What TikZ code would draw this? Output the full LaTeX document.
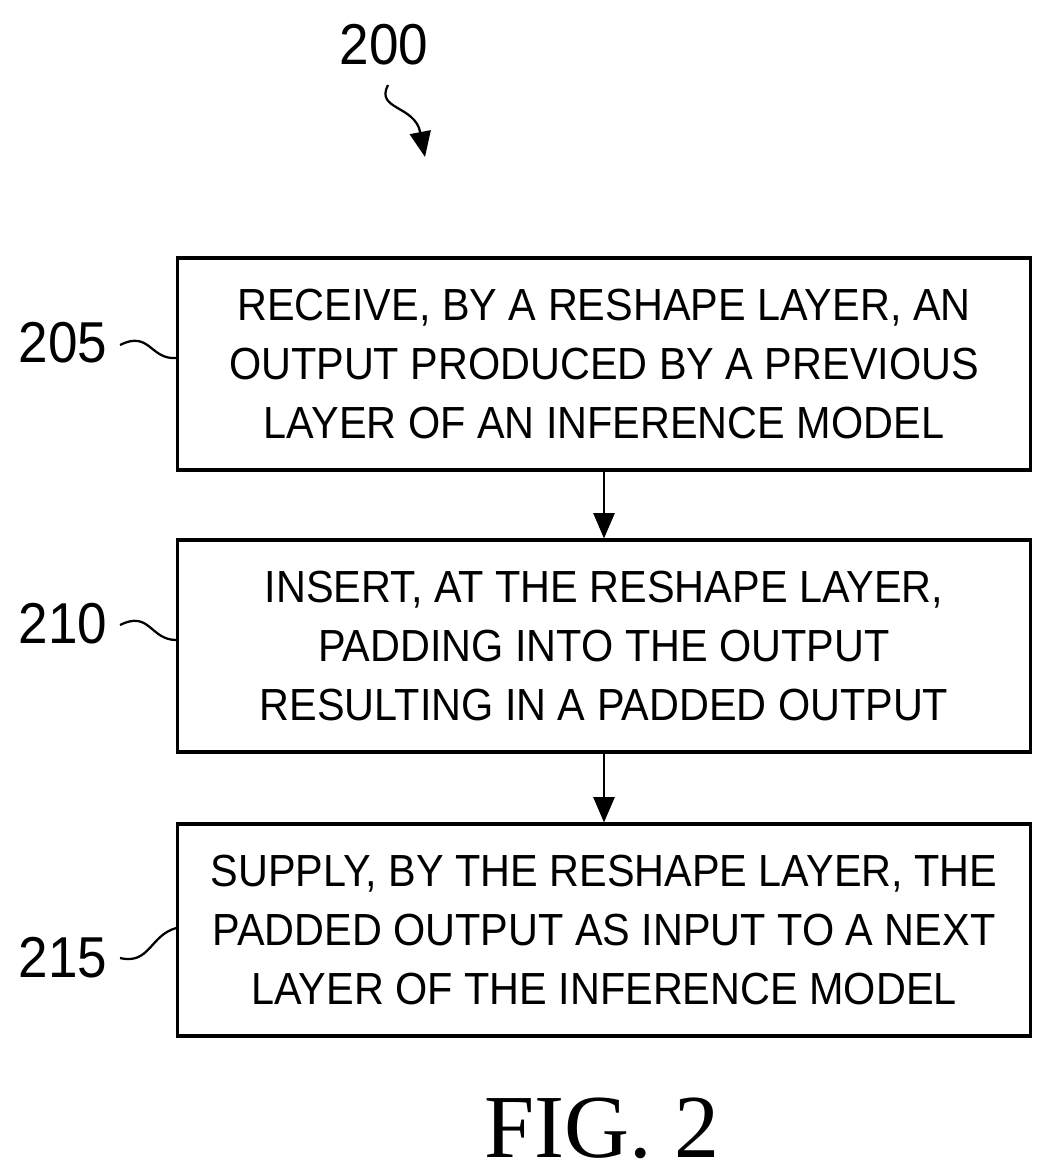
\documentclass[tikz,border=0pt]{standalone}
\usepackage{fontspec}
\setmainfont{Liberation Sans}[FakeStretch=0.92]
\newfontfamily\figfont{Liberation Serif}
\usetikzlibrary{arrows.meta,positioning,calc}

\begin{document}
\begin{tikzpicture}[
    x=0.025cm, y=-0.025cm,
    stepbox/.style={rectangle, draw=black, line width=2.2pt, minimum height=5.3cm, minimum width=21.3cm, align=center, font=\fontsize{32}{42}\selectfont, inner sep=0pt},
    tag/.style={font=\fontsize{41}{41}\selectfont, inner sep=0pt},
    arrow/.style={-{Triangle[length=18pt,width=15pt]}, line width=1.6pt},
    lead/.style={line width=1.6pt}
]
\useasboundingbox (0,0) rectangle (1052,1176);

% Steps
\node[stepbox] (s205) at (604,364) {RECEIVE, BY A RESHAPE LAYER, AN\\OUTPUT PRODUCED BY A PREVIOUS\\LAYER OF AN INFERENCE MODEL};
\node[stepbox] (s210) at (604,646) {INSERT, AT THE RESHAPE LAYER,\\PADDING INTO THE OUTPUT\\RESULTING IN A PADDED OUTPUT};
\node[stepbox] (s215) at (604,930) {SUPPLY, BY THE RESHAPE LAYER, THE\\PADDED OUTPUT AS INPUT TO A NEXT\\LAYER OF THE INFERENCE MODEL};

% Arrows
\draw[arrow] (s205) -- (s210);
\draw[arrow] (s210) -- (s215);

% Reference numerals
\node[tag] (n200) at (384,45) {200};
\node[tag] (n205) at (63,343) {205};
\node[tag] (n210) at (63,624) {210};
\node[tag] (n215) at (63,958) {215};

\coordinate (e205) at (120,345);
\coordinate (e210) at (120,625);
\coordinate (e215) at (120,958);
\draw[lead] (e205) .. controls (150,330) and (150,360) .. (s205.west |- 0,358);
\draw[lead] (e210) .. controls (150,610) and (150,640) .. (s210.west |- 0,640);
\draw[lead] (e215) .. controls (150,965) and (150,935) .. (s215.west |- 0,928);
\draw[arrow] (388,85) .. controls (375,110) and (415,105) .. (425,157);

% Caption
\node[font=\figfont\fontsize{64}{64}\selectfont, inner sep=0pt] (fig) at (602,1128) {FIG. 2};
\end{tikzpicture}
\end{document}
